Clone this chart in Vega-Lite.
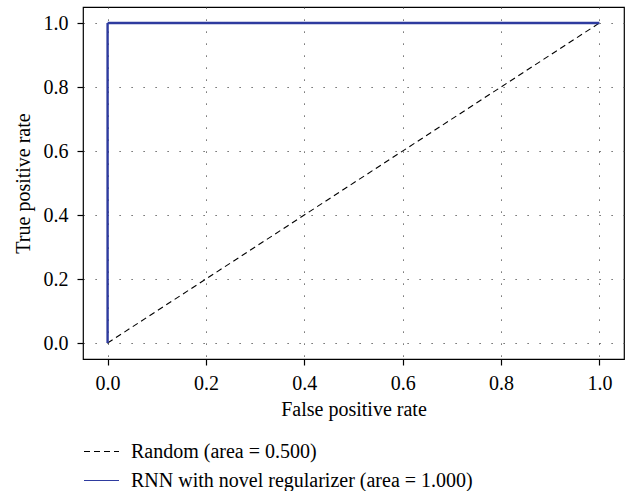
{
  "$schema": "https://vega.github.io/schema/vega-lite/v6.json",
  "autosize": {"type": "none"},
  "padding": {"left": 83, "top": 7, "right": 7, "bottom": 132},
  "width": 541,
  "height": 352,
  "background": "white",
  "config": {
    "font": "Liberation Serif",
    "view": {"stroke": "black", "strokeWidth": 1.2},
    "axis": {
      "labelFont": "Liberation Serif",
      "titleFont": "Liberation Serif",
      "labelFontSize": 20,
      "titleFontSize": 20,
      "titleFontWeight": "normal",
      "labelColor": "black",
      "titleColor": "black",
      "domain": false,
      "tickColor": "black",
      "tickSize": 6,
      "tickWidth": 1.2,
      "grid": true,
      "gridColor": "#444",
      "gridDash": [1.2, 10.8],
      "gridWidth": 1
    },
    "legend": {
      "labelFont": "Liberation Serif",
      "labelFontSize": 20,
      "labelColor": "black",
      "labelLimit": 0
    }
  },
  "data": {
    "values": [
      {"series": "Random (area = 0.500)", "fpr": 0, "tpr": 0, "ord": 0},
      {"series": "Random (area = 0.500)", "fpr": 1, "tpr": 1, "ord": 1},
      {"series": "RNN with novel regularizer (area = 1.000)", "fpr": 0, "tpr": 0, "ord": 0},
      {"series": "RNN with novel regularizer (area = 1.000)", "fpr": 0, "tpr": 1, "ord": 1},
      {"series": "RNN with novel regularizer (area = 1.000)", "fpr": 1, "tpr": 1, "ord": 2}
    ]
  },
  "encoding": {
    "x": {
      "field": "fpr", "type": "quantitative",
      "scale": {"domain": [-0.05, 1.05], "nice": false, "zero": false},
      "axis": {"values": [0, 0.2, 0.4, 0.6, 0.8, 1.0], "format": ".1f", "title": "False positive rate", "labelPadding": 8, "titlePadding": 6}
    },
    "y": {
      "field": "tpr", "type": "quantitative",
      "scale": {"domain": [-0.05, 1.05], "nice": false, "zero": false},
      "axis": {"values": [0, 0.2, 0.4, 0.6, 0.8, 1.0], "format": ".1f", "title": "True positive rate", "labelPadding": 9, "titlePadding": 10}
    },
    "order": {"field": "ord", "type": "quantitative"},
    "color": {
      "field": "series", "type": "nominal",
      "scale": {"domain": ["Random (area = 0.500)", "RNN with novel regularizer (area = 1.000)"], "range": ["black", "#2e3b9f"]},
      "legend": {
        "title": null,
        "orient": "none",
        "legendX": 0,
        "legendY": 426,
        "symbolType": "stroke",
        "symbolSize": 1225,
        "symbolStrokeWidth": 1.1,
        "labelOffset": 11,
        "labelLimit": 0,
        "rowPadding": -9
      }
    },
    "strokeDash": {
      "field": "series", "type": "nominal",
      "scale": {"domain": ["Random (area = 0.500)", "RNN with novel regularizer (area = 1.000)"], "range": [[6, 4], [1, 0]]},
      "legend": {
        "title": null,
        "orient": "none",
        "legendX": 0,
        "legendY": 426,
        "symbolType": "stroke",
        "symbolSize": 1225,
        "symbolStrokeWidth": 1.1,
        "labelOffset": 11,
        "labelLimit": 0,
        "rowPadding": -9
      }
    }
  },
  "layer": [
    {
      "transform": [{"filter": "datum.series === 'Random (area = 0.500)'"}],
      "mark": {"type": "line", "clip": false, "strokeWidth": 1.1}
    },
    {
      "transform": [{"filter": "datum.series !== 'Random (area = 0.500)'"}],
      "mark": {"type": "line", "clip": false, "strokeWidth": 2.4}
    }
  ]
}
